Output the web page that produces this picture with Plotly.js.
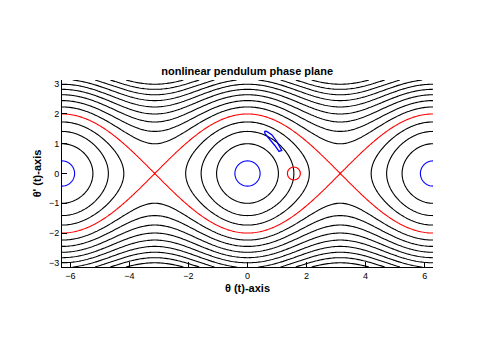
<!DOCTYPE html>
<html>
<head>
<meta charset="utf-8">
<script src="https://cdn.plot.ly/plotly-3.0.1.min.js"></script>
<style>html,body{margin:0;padding:0;background:#fff;}#chart{width:480px;height:361px;}</style>
</head>
<body>
<div id="chart"></div>
<script>
// Contour levels of the pendulum energy E = θ'^2/2 - cos θ
const innerLevelStart = -0.5;   // black, inside the separatrix
const innerLevelEnd = 0.5;
const outerLevelStart = 1.5;    // black, outside the separatrix
const outerLevelEnd = 5.5;
const levelStep = 0.5;
const separatrixLevel = 1;      // red
const smallOrbitLevel = -0.91;  // blue

// Axis extents and tick labels
const thetaRange = [-2 * Math.PI, 2 * Math.PI];
const omegaRange = [-Math.PI, Math.PI];
const xTickVals = [-6, -4, -2, 0, 2, 4, 6];
const yTickVals = [-3, -2, -1, 0, 1, 2, 3];

// Blue evolved patch (closed loop)
const patchTheta = [0.576, 0.651, 0.820, 0.990, 1.159, 1.068, 0.932, 0.763, 0.593, 0.576];
const patchOmega = [1.420, 1.414, 1.303, 1.077, 0.774, 0.741, 0.933, 1.135, 1.337, 1.420];

// Red circle marker
const markTheta = [1.571];
const markOmega = [0];

// Sampling grid for the energy field
const nx = 241, ny = 121;
const gx = [], gy = [], gz = [];
for (let i = 0; i < nx; i++) gx.push(thetaRange[0] + (thetaRange[1] - thetaRange[0]) * i / (nx - 1));
for (let j = 0; j < ny; j++) gy.push(omegaRange[0] + (omegaRange[1] - omegaRange[0]) * j / (ny - 1));
for (let j = 0; j < ny; j++) {
  const row = [];
  for (let i = 0; i < nx; i++) row.push(gy[j] * gy[j] / 2 - Math.cos(gx[i]));
  gz.push(row);
}

function contourTrace(start, end, size, color) {
  return {
    type: 'contour', x: gx, y: gy, z: gz,
    autocontour: false,
    contours: {coloring: 'none', start: start, end: end, size: size, showlabels: false},
    line: {color: color, width: 1.1, smoothing: 0},
    showscale: false, hoverinfo: 'skip'
  };
}

const data = [
  contourTrace(innerLevelStart, innerLevelEnd, levelStep, '#000000'),
  contourTrace(outerLevelStart, outerLevelEnd, levelStep, '#000000'),
  contourTrace(separatrixLevel, separatrixLevel, 1, '#ff0000'),
  contourTrace(smallOrbitLevel, smallOrbitLevel, 1, '#0000ff'),
  {type: 'scatter', mode: 'lines', x: patchTheta, y: patchOmega,
   line: {color: '#0000ff', width: 1.3}, hoverinfo: 'skip', showlegend: false},
  {type: 'scatter', mode: 'markers', x: markTheta, y: markOmega,
   marker: {symbol: 'circle-open', size: 13, color: '#ff0000', line: {width: 1.2, color: '#ff0000'}},
   hoverinfo: 'skip', showlegend: false}
];

const axisFont = {family: 'Liberation Sans, Arial, sans-serif', size: 9, color: '#000'};
const titleFont = {family: 'Liberation Sans, Arial, sans-serif', size: 11, color: '#000'};
const layout = {
  width: 480, height: 361,
  margin: {l: 62, r: 47, t: 80, b: 94},
  paper_bgcolor: '#fff', plot_bgcolor: '#fff',
  showlegend: false,
  title: {text: '<b>nonlinear pendulum phase plane</b>', font: titleFont,
          x: 0.515, xanchor: 'center', y: 0.803, yanchor: 'middle'},
  xaxis: {range: thetaRange, tickvals: xTickVals, ticks: 'inside', ticklen: 5, tickcolor: '#000',
          showline: true, linecolor: '#000', linewidth: 1, mirror: false,
          showgrid: false, zeroline: false, tickfont: axisFont,
          title: {text: '<b>θ (t)-axis</b>', font: titleFont, standoff: 4}},
  yaxis: {range: omegaRange, tickvals: yTickVals, ticks: 'inside', ticklen: 5, tickcolor: '#000',
          showline: true, linecolor: '#000', linewidth: 1, mirror: false,
          showgrid: false, zeroline: false, tickfont: axisFont,
          title: {text: "<b>θ' (t)-axis</b>", font: titleFont, standoff: 5}},
  hovermode: false
};

Plotly.newPlot('chart', data, layout, {displayModeBar: false, staticPlot: true});
</script>
</body>
</html>
